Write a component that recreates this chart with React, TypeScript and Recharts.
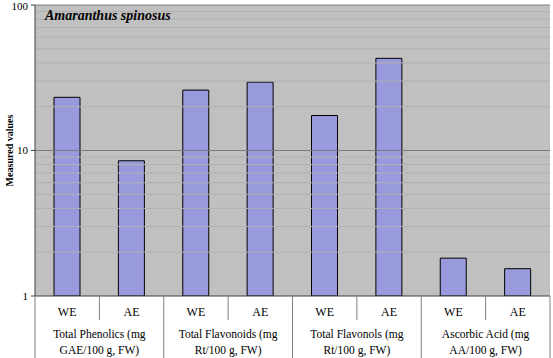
import { BarChart, Bar, XAxis, YAxis, CartesianGrid, ReferenceLine } from 'recharts';

const subLabels = ['WE', 'AE', 'WE', 'AE', 'WE', 'AE', 'WE', 'AE'];
const groupLines = [
  ['Total Phenolics (mg', 'GAE/100 g, FW)'],
  ['Total Flavonoids (mg', 'Rt/100 g, FW)'],
  ['Total Flavonols (mg', 'Rt/100 g, FW)'],
  ['Ascorbic Acid (mg', 'AA/100 g, FW)'],
];
const values = [23.2, 8.5, 26, 29.5, 17.4, 43, 1.82, 1.54];
const yTicks = [1, 10, 100];
const minorGrid = [2, 3, 4, 5, 6, 7, 8, 9, 20, 30, 40, 50, 60, 70, 80, 90];

const data = values.map((v, i) => ({ sub: subLabels[i], group: Math.floor(i / 2), value: v }));

const W = 553;
const H = 358;
const LEFT = 35;
const RIGHT = 3;
const PLOT_W = W - LEFT - RIGHT;
const CAT_W = PLOT_W / data.length;
const FONT = 'Liberation Serif, Times New Roman, DejaVu Serif, serif';

function CategoryTick(props: any) {
  const { x, y, payload, index } = props;
  const right = x + CAT_W / 2;
  const left = x - CAT_W / 2;
  const isFirst = index % 2 === 0;
  const g = groupLines[Math.floor(index / 2)];
  return (
    <g>
      <text x={x} y={y + 20} textAnchor="middle" style={{ fontFamily: FONT }} fontSize={12} fill="#000">
        {payload.value}
      </text>
      {index === 0 && <line x1={left} x2={left} y1={y} y2={H} stroke="#808080" />}
      <line x1={right} x2={right} y1={y} y2={isFirst ? y + 24 : H} stroke="#808080" />
      {isFirst && (
        <text x={right} y={y + 42} textAnchor="middle" style={{ fontFamily: FONT }} fontSize={11.5} fill="#000">
          <tspan x={right}>{g[0]}</tspan>
          <tspan x={right} dy={16}>{g[1]}</tspan>
        </text>
      )}
    </g>
  );
}

export default function App() {
  return (
    <div style={{ position: 'absolute', left: 0, top: 0, width: W, height: H, background: '#fff', fontFamily: FONT }}>
      <BarChart width={W} height={H} data={data} margin={{ top: 5, right: RIGHT, left: 0, bottom: 0 }} barCategoryGap={0}>
        <CartesianGrid fill="#c0c0c0" horizontal={false} vertical={false} />
        {minorGrid.map((v) => (
          <ReferenceLine key={v} y={v} stroke="#b0b0b0" ifOverflow="hidden" />
        ))}
        <ReferenceLine y={10} stroke="#7a7a7a" />
        <ReferenceLine y={100} stroke="#808080" />
        <XAxis
          dataKey="sub"
          height={H - 296}
          interval={0}
          tickSize={0}
          tickMargin={0}
          tickLine={false}
          axisLine={{ stroke: '#404040' }}
          tick={<CategoryTick />}
        />
        <YAxis
          scale="log"
          domain={[1, 100]}
          allowDataOverflow
          ticks={yTicks}
          width={LEFT}
          tickSize={4}
          tickMargin={3}
          tickLine={{ stroke: '#404040' }}
          axisLine={{ stroke: '#404040' }}
          tick={{ fontSize: 11, fill: '#000', style: { fontFamily: FONT } }}
          label={{
            value: 'Measured values',
            angle: -90,
            position: 'insideLeft',
            offset: 9,
            style: { fontFamily: FONT, fontSize: 10, fontWeight: 'bold', fill: '#000', textAnchor: 'middle' },
          }}
        />
        <YAxis yAxisId="r" orientation="right" width={0} tick={false} tickLine={false} axisLine={{ stroke: '#808080' }} />
        <Bar dataKey="value" fill="#9999dd" stroke="#000" strokeWidth={1} barSize={26} isAnimationActive={false} />
      </BarChart>
      <div
        style={{
          position: 'absolute',
          left: 45,
          top: 8,
          fontFamily: FONT,
          fontSize: 14,
          fontWeight: 'bold',
          fontStyle: 'italic',
          color: '#000',
        }}
      >
        Amaranthus spinosus
      </div>
    </div>
  );
}
